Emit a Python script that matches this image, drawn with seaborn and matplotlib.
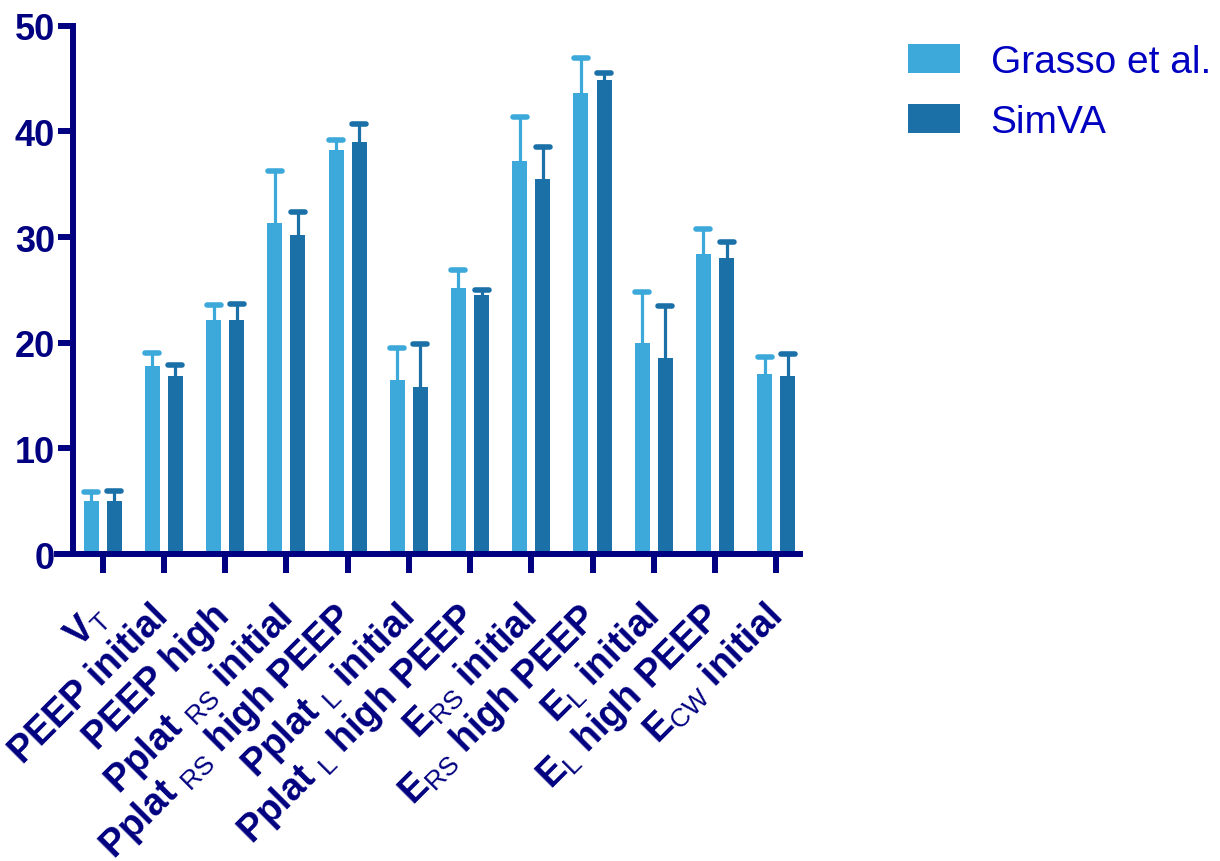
import numpy as np
import pandas as pd
import matplotlib
matplotlib.use("Agg")
import matplotlib.pyplot as plt
import matplotlib.transforms as mtransforms
from matplotlib.markers import MarkerStyle
import seaborn as sns

# ---- data ----
labels = [r"V$_{\mathrm{T}}$", "PEEP initial", "PEEP high",
          r"Pplat $_{\mathrm{RS}}$ initial", r"Pplat $_{\mathrm{RS}}$ high PEEP",
          r"Pplat $_{\mathrm{L}}$ initial", r"Pplat $_{\mathrm{L}}$ high PEEP",
          r"E$_{\mathrm{RS}}$ initial", r"E$_{\mathrm{RS}}$ high PEEP",
          r"E$_{\mathrm{L}}$ initial", r"E$_{\mathrm{L}}$ high PEEP",
          r"E$_{\mathrm{CW}}$ initial"]
series = ["Grasso et al.", "SimVA"]
grasso = [5.0, 17.8, 22.2, 31.3, 38.2, 16.5, 25.2, 37.2, 43.6, 20.0, 28.4, 17.0]
grasso_err = [0.9, 1.2, 1.4, 5.0, 1.0, 3.0, 1.7, 4.2, 3.3, 4.8, 2.4, 1.7]
simva = [5.0, 16.9, 22.2, 30.2, 39.0, 15.8, 24.5, 35.5, 44.9, 18.6, 28.0, 16.9]
simva_err = [1.0, 1.0, 1.5, 2.2, 1.7, 4.1, 0.5, 3.0, 0.6, 4.9, 1.5, 2.0]

colors = ["#3DA9DB", "#1B70A8"]
navy = "#000080"

plt.rcParams['mathtext.fontset'] = 'custom'
plt.rcParams['mathtext.rm'] = 'Liberation Sans'
plt.rcParams['font.family'] = ['Liberation Sans', 'DejaVu Sans']

df = pd.DataFrame({
    "label": labels * 2,
    "value": grasso + simva,
    "err": grasso_err + simva_err,
    "source": [series[0]] * len(labels) + [series[1]] * len(labels),
})

fig = plt.figure(figsize=(12.2, 8.62), dpi=100)
ax = fig.add_axes([0.0598, 0.356, 0.596, 0.613])

sns.barplot(data=df, x="label", y="value", hue="source", palette=colors,
            width=0.754, gap=0.35, errorbar=None, saturation=1, ax=ax)

# one-sided error bars on top of each bar
for cont, s in zip(ax.containers, series):
    errs = df.loc[df.source == s, "err"].values
    xs = [p.get_x() + p.get_width() / 2 for p in cont.patches]
    hs = np.array([p.get_height() for p in cont.patches])
    col = cont.patches[0].get_facecolor()
    eb = ax.errorbar(xs, hs, yerr=[np.zeros(len(errs)), errs], fmt="none",
                     ecolor=col, elinewidth=2.3, capsize=5, capthick=4, zorder=3)
    for cl in eb[1]:
        if np.allclose(cl.get_ydata(), hs):
            cl.set_visible(False)  # no cap at the bar top
        else:
            cl.set_marker(MarkerStyle("_", capstyle="round"))

ax.set_ylim(0, 50)
ax.set_xlim(-0.485, 11.39)
ax.set_yticks([0, 10, 20, 30, 40, 50])
ax.set_xlabel("")
ax.set_ylabel("")

sns.despine(ax=ax)
for sp in ["left", "bottom"]:
    ax.spines[sp].set_color(navy)
    ax.spines[sp].set_linewidth(4.3)
ax.spines["bottom"].set_bounds(-0.74, 11.39)

ax.tick_params(axis="y", colors=navy, width=4.3, length=11, labelsize=26, pad=2)
ax.tick_params(axis="x", colors=navy, width=4.3, length=14, labelsize=27, pad=4)
for t in ax.get_yticklabels():
    t.set_fontweight("bold")
shift = mtransforms.ScaledTranslation(-14 / 100, -18 / 100, fig.dpi_scale_trans)
for t in ax.get_xticklabels():
    t.set_fontweight("bold")
    t.set_rotation(45)
    t.set_ha("right")
    t.set_va("top")
    t.set_rotation_mode("anchor")
    t.set_transform(t.get_transform() + shift)

leg = ax.legend(loc="upper left", bbox_to_anchor=(1.148, 0.966), frameon=False,
                borderaxespad=0, borderpad=0,
                fontsize=28, handlelength=1.35, handleheight=0.78,
                handletextpad=0.78, labelspacing=0.62)
for t in leg.get_texts():
    t.set_color("#0000C0")

fig.savefig("out.png", dpi=100)
